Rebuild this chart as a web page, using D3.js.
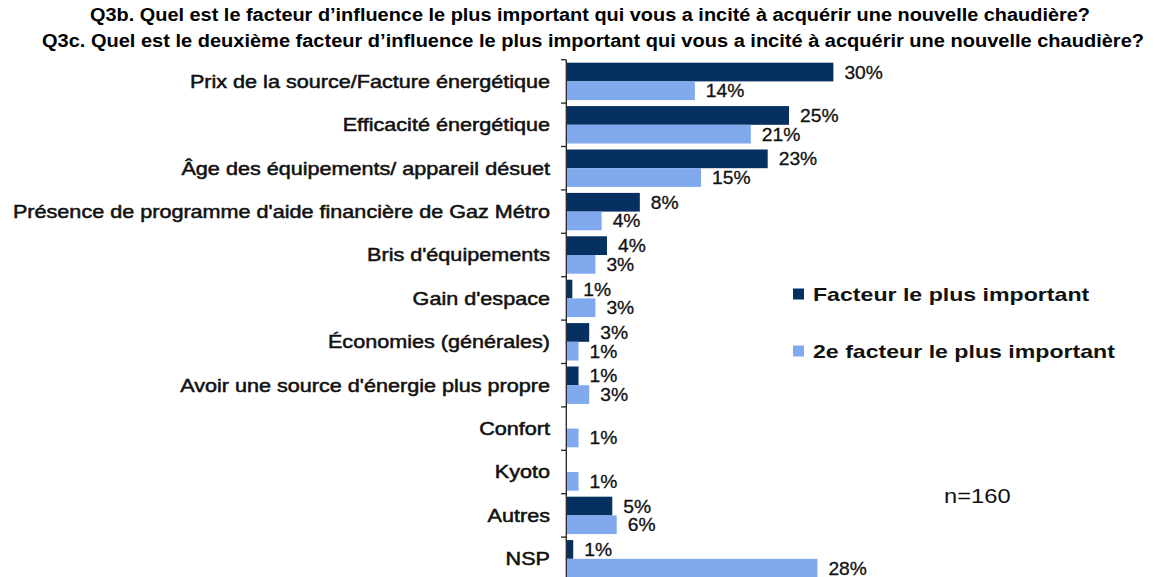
<!DOCTYPE html>
<html>
<head>
<meta charset="utf-8">
<script src="https://cdn.jsdelivr.net/npm/d3@7"></script>
<style>
  body { margin: 0; background: #fff; }
  svg { display: block; font-family: "Liberation Sans", Arial, sans-serif; }
</style>
</head>
<body>
<svg id="chart" width="1154" height="577"></svg>
<script>
// data
const categories = [
    "Prix de la source/Facture énergétique",
    "Efficacité énergétique",
    "Âge des équipements/ appareil désuet",
    "Présence de programme d'aide financière de Gaz Métro",
    "Bris d'équipements",
    "Gain d'espace",
    "Économies (générales)",
    "Avoir une source d'énergie plus propre",
    "Confort",
    "Kyoto",
    "Autres",
    "NSP"
];
const firstFactor = [30, 25, 22.6, 8.2, 4.5, 0.6, 2.5, 1.3, null, null, 5.1, 0.7];
const secondFactor = [14.4, 20.7, 15.1, 3.9, 3.2, 3.2, 1.3, 2.5, 1.3, 1.3, 5.6, 28.2];
const firstLabels = ["30%", "25%", "23%", "8%", "4%", "1%", "3%", "1%", "", "", "5%", "1%"];
const secondLabels = ["14%", "21%", "15%", "4%", "3%", "3%", "1%", "3%", "1%", "1%", "6%", "28%"];
const seriesNames = ["Facteur le plus important", "2e facteur le plus important"];
const seriesColors = ["#05305f", "#80a9ee"];
const titleLines = [
    "Q3b. Quel est le facteur d’influence le plus important qui vous a incité à acquérir une nouvelle chaudière?",
    "Q3c. Quel est le deuxième facteur d’influence le plus important qui vous a incité à acquérir une nouvelle chaudière?"
];
const sampleNote = "n=160";

const svg = d3.select('#chart');

// scales
const y = d3.scaleBand()
    .domain(categories)
    .range([59.7, 580.5]);

const sub = d3.scaleBand()
    .domain([0, 1])
    .range([0, y.bandwidth()])
    .paddingOuter(0.16);

const x = d3.scaleLinear()
    .domain([0, 30])
    .range([567, 833.4]);

// title
svg.append('g').selectAll('text')
    .data(titleLines)
    .enter().append('text')
    .attr('x', (d, i) => i === 0 ? 590 : 593)
    .attr('y', (d, i) => i === 0 ? 20.5 : 46.5)
    .attr('text-anchor', 'middle')
    .attr('font-size', 17.5)
    .attr('font-weight', 'bold')
    .attr('textLength', (d, i) => i === 0 ? 1000 : 1102)
    .attr('lengthAdjust', 'spacingAndGlyphs')
    .text(d => d);

// bars, one group per category
const rows = categories.map((c, i) => ({
    cat: c,
    values: [firstFactor[i], secondFactor[i]],
    labels: [firstLabels[i], secondLabels[i]]
}));

const rowGroups = svg.append('g').selectAll('g')
    .data(rows)
    .enter().append('g')
    .attr('transform', d => 'translate(0,' + y(d.cat) + ')');

rowGroups.selectAll('rect')
    .data(d => d.values.map((v, k) => ({ v: v, k: k })).filter(e => e.v != null))
    .enter().append('rect')
    .attr('x', x(0))
    .attr('y', e => sub(e.k))
    .attr('width', e => x(e.v) - x(0))
    .attr('height', sub.bandwidth())
    .attr('fill', e => seriesColors[e.k]);

rowGroups.selectAll('text.val')
    .data(d => d.values.map((v, k) => ({ v: v, k: k, label: d.labels[k] })).filter(e => e.v != null))
    .enter().append('text')
    .attr('class', 'val')
    .attr('transform', e => 'translate(' + (x(e.v) + 11) + ',' + (sub(e.k) + sub.bandwidth() / 2 + 6.5) + ') scale(1.1,1)')
    .attr('font-size', 17.5)
    .attr('fill', '#111')
    .attr('stroke', '#111')
    .attr('stroke-width', 0.3)
    .text(e => e.label);

// category labels
svg.append('g').selectAll('text')
    .data(categories)
    .enter().append('text')
    .attr('transform', d => 'translate(550,' + (y(d) + y.bandwidth() / 2 + 6.3) + ') scale(1.2,1)')
    .attr('text-anchor', 'end')
    .attr('font-size', 18)
    .attr('fill', '#111')
    .attr('stroke', '#111')
    .attr('stroke-width', 0.5)
    .text(d => d);

// axis line with ticks at band edges
const axis = svg.append('g').attr('stroke', '#222').attr('stroke-width', 1.3);
axis.append('line')
    .attr('x1', 566.3).attr('x2', 566.3)
    .attr('y1', y.range()[0]).attr('y2', y.range()[1]);
axis.selectAll('line.tick')
    .data(categories.map(c => y(c)).concat([y.range()[1]]))
    .enter().append('line')
    .attr('class', 'tick')
    .attr('x1', 561).attr('x2', 566.3)
    .attr('y1', d => d).attr('y2', d => d);

// legend
const legend = svg.append('g').selectAll('g')
    .data(seriesNames)
    .enter().append('g')
    .attr('transform', (d, i) => 'translate(793,' + (288.5 + i * 57) + ')');

legend.append('rect')
    .attr('width', 11).attr('height', 11)
    .attr('fill', (d, i) => seriesColors[i]);

legend.append('text')
    .attr('transform', 'translate(20,12.5) scale(1.25,1)')
    .attr('font-size', 18.5)
    .attr('font-weight', 'bold')
    .attr('fill', '#111')
    .text(d => d);

// sample size
svg.append('text')
    .attr('transform', 'translate(944,503) scale(1.13,1)')
    .attr('font-size', 21)
    .attr('fill', '#111')
    .text(sampleNote);
</script>
</body>
</html>
